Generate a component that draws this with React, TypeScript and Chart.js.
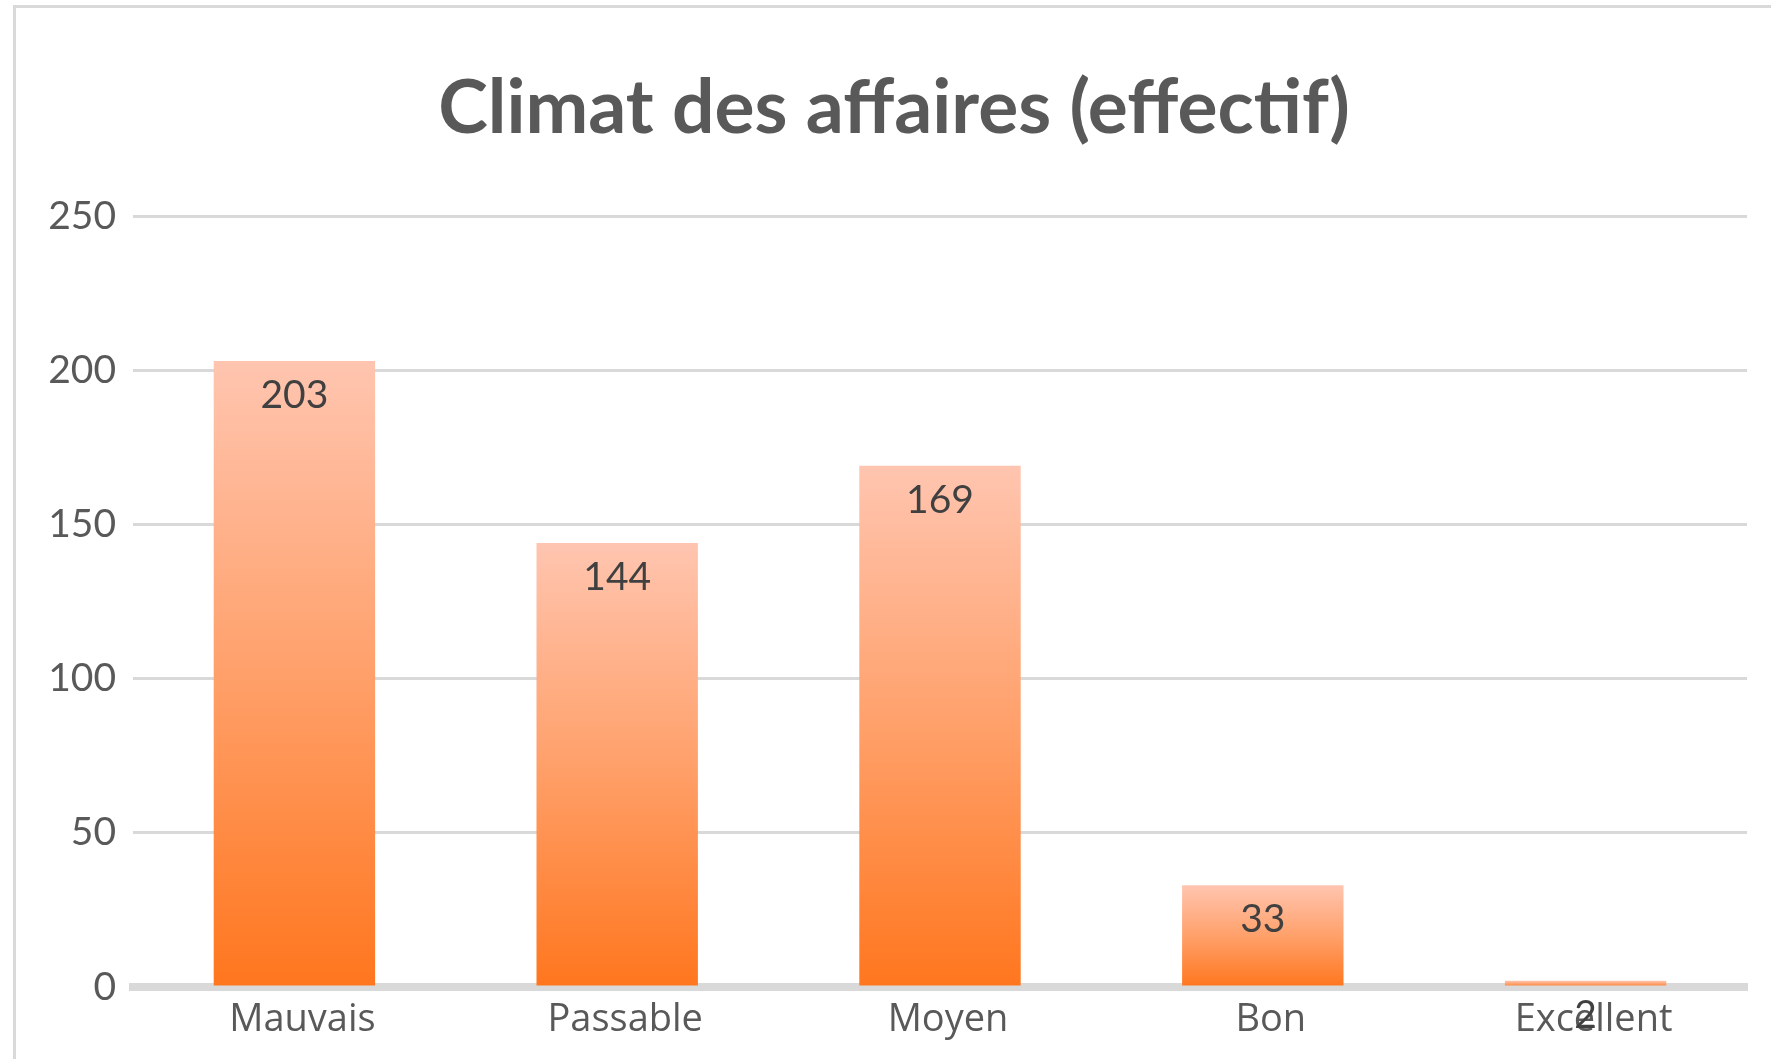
import { useEffect, useRef } from "react";
import { Chart, registerables } from "chart.js";

Chart.register(...registerables);

const chartTitle = "Climat des affaires (effectif)";
const categories = ["Mauvais", "Passable", "Moyen", "Bon", "Excellent"];
const values = [203, 144, 169, 33, 2];
const yMin = 0;
const yMax = 250;
const yStep = 50;

const FONT = "Lato, 'Open Sans', sans-serif";
const LABEL_FONT = "'Open Sans', Lato, sans-serif";

const dataLabelPlugin = {
  id: "dataLabels",
  afterDatasetsDraw(chart: any) {
    const ctx = chart.ctx;
    const meta = chart.getDatasetMeta(0);
    ctx.save();
    ctx.font = `39px ${FONT}`;
    ctx.fillStyle = "#404040";
    ctx.textAlign = "center";
    ctx.textBaseline = "alphabetic";
    meta.data.forEach((el: any, i: number) => {
      ctx.fillText(String(values[i]), el.x, el.y + 47);
    });
    ctx.restore();
  },
};

export default function App() {
  const ref = useRef<HTMLCanvasElement | null>(null);

  useEffect(() => {
    if (!ref.current) return;
    const chart = new Chart(ref.current, {
      type: "bar",
      data: {
        labels: categories,
        datasets: [
          {
            data: values,
            backgroundColor: (c: any) => {
              const ch = c.chart;
              if (!ch.chartArea || !ch.scales.y) return "#FF8A3D";
              const y = ch.scales.y;
              const top = y.getPixelForValue(c.raw);
              const bottom = y.getPixelForValue(0);
              const g = ch.ctx.createLinearGradient(0, top, 0, bottom);
              g.addColorStop(0, "#FFC5B0");
              g.addColorStop(0.5, "#FFA06A");
              g.addColorStop(1, "#FF761E");
              return g;
            },
            borderWidth: 0,
            categoryPercentage: 1,
            barPercentage: 0.5,
          },
        ],
      },
      options: {
        responsive: false,
        animation: false,
        events: [],
        layout: { padding: { left: 41, right: 24, top: 0, bottom: 0 } },
        plugins: {
          legend: { display: false },
          tooltip: { enabled: false },
          title: {
            display: true,
            text: chartTitle,
            color: "#595959",
            font: { family: FONT, size: 75, weight: "bold", lineHeight: 1.2 },
            padding: { top: 64, bottom: 62 },
          },
        },
        scales: {
          x: {
            grid: { display: false, drawTicks: false },
            border: { display: true, color: "#D9D9D9", width: 8 },
            ticks: {
              color: "#595959",
              font: { family: LABEL_FONT, size: 38 },
              padding: 10,
              labelOffset: 8,
              maxRotation: 0,
              autoSkip: false,
            },
            afterFit: (s: any) => {
              s.height = 72;
            },
          },
          y: {
            min: yMin,
            max: yMax,
            grid: { color: "#D9D9D9", lineWidth: 3, drawTicks: false },
            border: { display: false },
            ticks: {
              stepSize: yStep,
              color: "#595959",
              font: { family: FONT, size: 39 },
              padding: 17,
            },
            afterFit: (s: any) => {
              s.width = 92;
            },
          },
        },
      },
      plugins: [dataLabelPlugin],
    });
    return () => chart.destroy();
  }, []);

  return (
    <div style={{ position: "absolute", left: 0, top: 0, width: 1771, height: 1059, background: "#fff", overflow: "hidden" }}>
      <div
        style={{
          position: "absolute",
          left: 13,
          top: 5,
          width: 1771 - 13,
          height: 1059 - 5,
          borderLeft: "3px solid #D9D9D9",
          borderTop: "3px solid #D9D9D9",
          boxSizing: "border-box",
        }}
      />
      <canvas ref={ref} width={1771} height={1059} style={{ position: "absolute", left: 0, top: 0, width: 1771, height: 1059 }} />
    </div>
  );
}
